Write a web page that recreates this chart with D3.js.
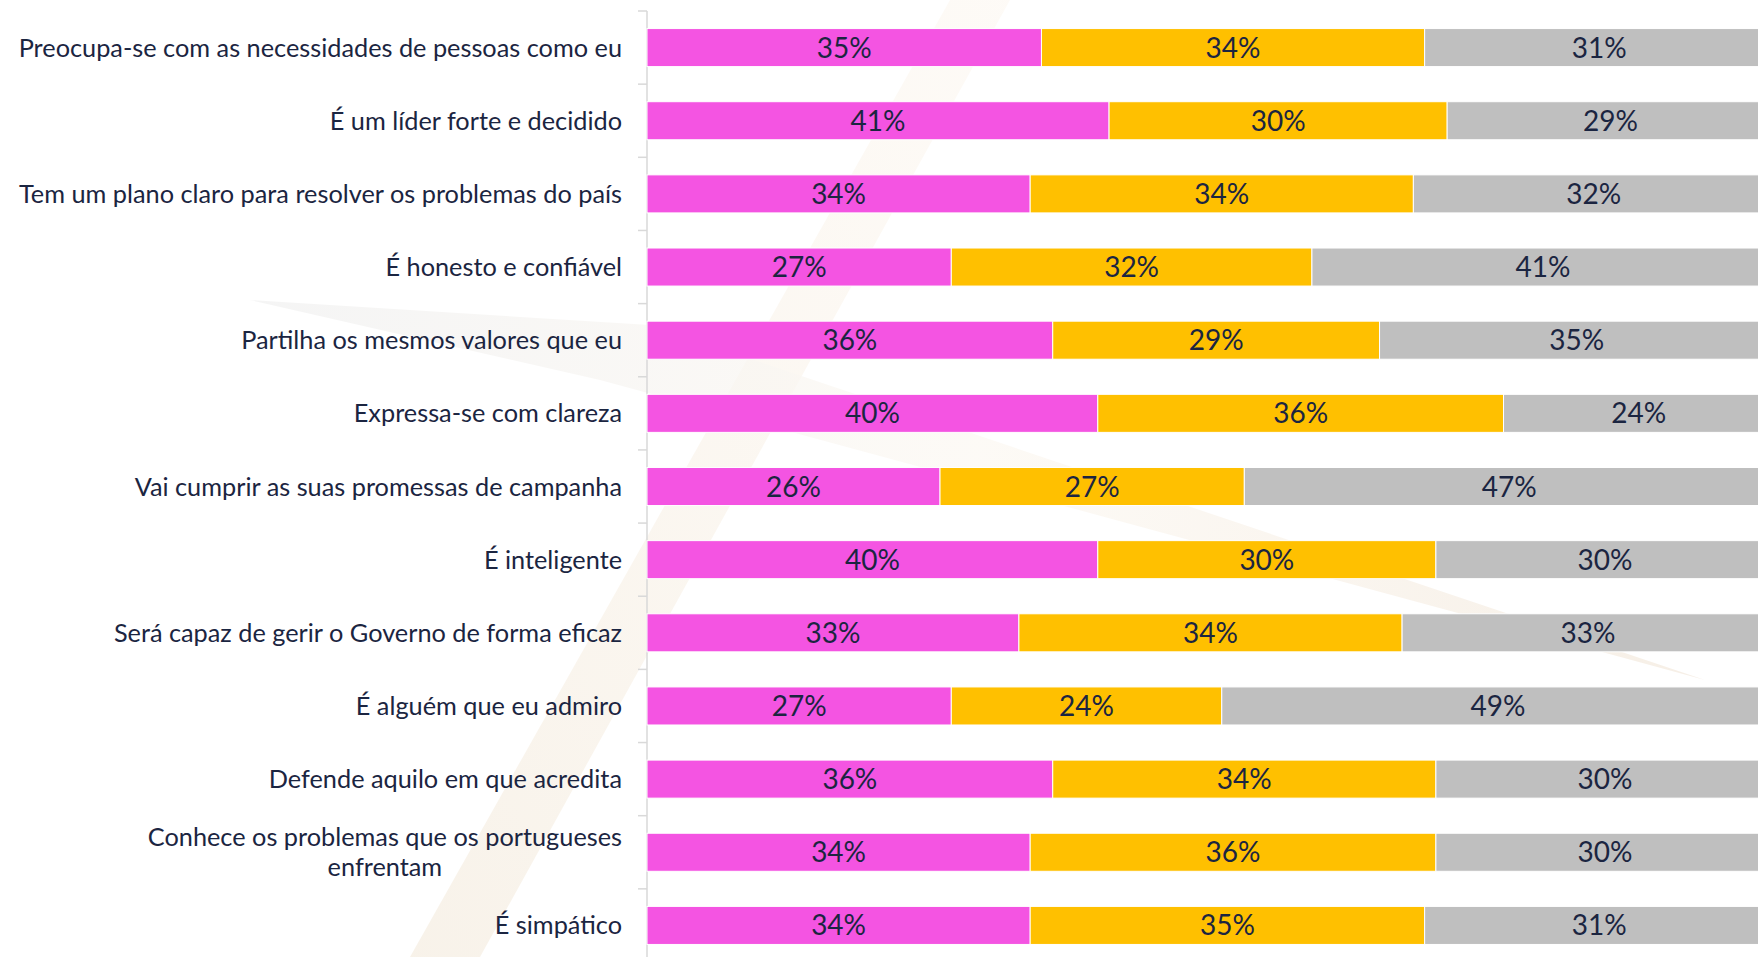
<!DOCTYPE html>
<html>
<head>
<meta charset="utf-8">
<script src="https://cdn.jsdelivr.net/npm/d3@7"></script>
<style>
  body { margin: 0; background: #fff; }
  svg { display: block; }
  text { font-family: Lato, "Noto Sans", sans-serif; fill: #1b2541; }
</style>
</head>
<body>
<div id="chart"></div>
<script>
var w = 1758, h = 957;
var margin = { top: 11, left: 647 };

// categories (top to bottom)
var categories = [
  "Preocupa-se com as necessidades de pessoas como eu",
  "É um líder forte e decidido",
  "Tem um plano claro para resolver os problemas do país",
  "É honesto e confiável",
  "Partilha os mesmos valores que eu",
  "Expressa-se com clareza",
  "Vai cumprir as suas promessas de campanha",
  "É inteligente",
  "Será capaz de gerir o Governo de forma eficaz",
  "É alguém que eu admiro",
  "Defende aquilo em que acredita",
  "Conhece os problemas que os portugueses\nenfrentam",
  "É simpático"
];

// series values (%)
var pinkValues   = [35, 41, 34, 27, 36, 40, 26, 40, 33, 27, 36, 34, 34];
var orangeValues = [34, 30, 34, 32, 29, 36, 27, 30, 34, 24, 34, 36, 35];
var greyValues   = [31, 29, 32, 41, 35, 24, 47, 30, 33, 49, 30, 30, 31];

var seriesKeys = ["pink", "orange", "grey"];
var seriesColors = ["#f454e2", "#ffc000", "#bfbfbf"];

var rows = categories.map(function(c, i) {
  return { cat: c, pink: pinkValues[i], orange: orangeValues[i], grey: greyValues[i] };
});

var svg = d3.select("#chart").append("svg")
  .attr("width", w)
  .attr("height", h);

// very faint watermark logo in the background
var defs = svg.append("defs");
var g1 = defs.append("linearGradient").attr("id", "wm1").attr("x1", 0).attr("y1", 1).attr("x2", 1).attr("y2", 0);
g1.append("stop").attr("offset", "0%").attr("stop-color", "#f6efe4").attr("stop-opacity", 0.8);
g1.append("stop").attr("offset", "100%").attr("stop-color", "#fcf6ee").attr("stop-opacity", 0.5);
var g2 = defs.append("linearGradient").attr("id", "wm2").attr("x1", 0).attr("y1", 0).attr("x2", 1).attr("y2", 0);
g2.append("stop").attr("offset", "0%").attr("stop-color", "#f2f2f2").attr("stop-opacity", 0.8);
g2.append("stop").attr("offset", "50%").attr("stop-color", "#fcf8f2").attr("stop-opacity", 0.7);
g2.append("stop").attr("offset", "100%").attr("stop-color", "#f4ebe0").attr("stop-opacity", 0.8);

svg.append("path")
  .attr("d", "M410,957 L480,957 L1010,0 L950,0 Z")
  .attr("fill", "url(#wm1)");
svg.append("path")
  .attr("d", "M250,300 L650,325 L1705,680 L600,380 Z")
  .attr("fill", "url(#wm2)");

var x = d3.scaleLinear().domain([0, 100]).range([margin.left, margin.left + 1127]);
var y = d3.scaleBand().domain(categories).range([margin.top, margin.top + 951])
  .paddingInner(0.48).paddingOuter(0.24);

var stack = d3.stack().keys(seriesKeys)(rows);
var color = d3.scaleOrdinal().domain(seriesKeys).range(seriesColors);

// axis line + ticks at band boundaries
var axis = svg.append("g");
axis.append("line")
  .attr("x1", margin.left).attr("x2", margin.left)
  .attr("y1", margin.top).attr("y2", h)
  .attr("stroke", "#d9d9d9").attr("stroke-width", 1.5);
axis.selectAll(".tick")
  .data(categories)
  .enter().append("line")
  .attr("x1", margin.left - 9).attr("x2", margin.left)
  .attr("y1", function(d) { return y(d) - y.step() * 0.24; })
  .attr("y2", function(d) { return y(d) - y.step() * 0.24; })
  .attr("stroke", "#d9d9d9").attr("stroke-width", 1.5);

// bars
var layers = svg.append("g").selectAll("g")
  .data(stack)
  .enter().append("g")
  .attr("fill", function(d) { return color(d.key); });

layers.selectAll("rect")
  .data(function(d) { return d; })
  .enter().append("rect")
  .attr("x", function(d) { return x(d[0]); })
  .attr("y", function(d) { return y(d.data.cat); })
  .attr("width", function(d) { return x(d[1]) - x(d[0]); })
  .attr("height", y.bandwidth())
  .attr("stroke", "#fff")
  .attr("stroke-width", 1);

// value labels
layers.selectAll("text")
  .data(function(d) { return d; })
  .enter().append("text")
  .attr("x", function(d) { return (x(d[0]) + x(d[1])) / 2; })
  .attr("y", function(d) { return y(d.data.cat) + y.bandwidth() / 2 + 10; })
  .attr("text-anchor", "middle")
  .style("font-size", "28px")
  .text(function(d) { return Math.round(d[1] - d[0]) + "%"; });

// category labels
var labelRight = margin.left - 25;
var labels = svg.append("g").selectAll("text")
  .data(categories)
  .enter().append("text")
  .style("font-size", "25.3px");

labels.each(function(d) {
  var t = d3.select(this);
  var lines = d.split("\n");
  var cy = y(d) + y.bandwidth() / 2;
  if (lines.length === 1) {
    t.attr("x", labelRight).attr("y", cy + 9).attr("text-anchor", "end").text(d);
  } else {
    var spans = lines.map(function(l, i) {
      return t.append("tspan").attr("y", cy + 9 + (i - (lines.length - 1) / 2) * 30).text(l);
    });
    var maxW = d3.max(spans, function(s) { return s.node().getComputedTextLength(); });
    t.attr("text-anchor", "middle");
    spans.forEach(function(s) { s.attr("x", labelRight - maxW / 2); });
  }
});
</script>
</body>
</html>
